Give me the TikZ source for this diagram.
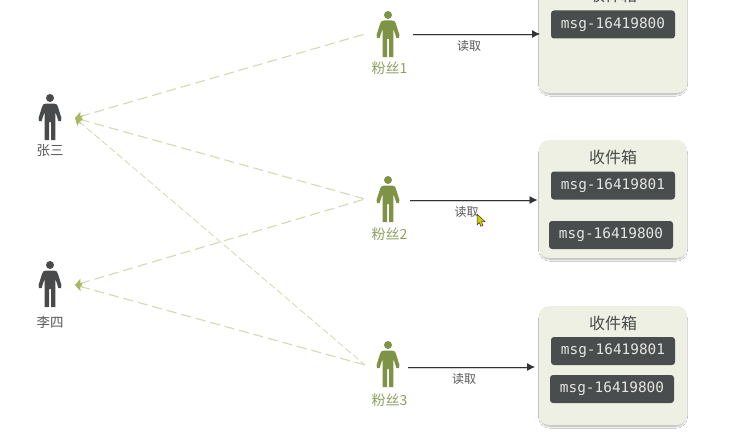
\documentclass[tikz,border=0pt]{standalone}
\usepackage{fontspec}
\setmainfont{Noto Sans CJK SC}
\newfontfamily\msgfont{DejaVu Sans Mono}
\usetikzlibrary{arrows.meta,shadows.blur}
\definecolor{boxfill}{HTML}{EDF0E2}
\definecolor{msgfill}{HTML}{4A4D4D}
\definecolor{msgtext}{HTML}{E4E6E2}
\definecolor{fangreen}{HTML}{7F9347}
\definecolor{fanlabel}{HTML}{8FA060}
\definecolor{darkperson}{HTML}{484A4B}
\definecolor{dashcol}{HTML}{D5D8B2}
\definecolor{tipcol}{HTML}{A6B95E}
\definecolor{txtcol}{HTML}{5A5A5A}
\tikzset{
  inboxbox/.style={draw=none,fill=boxfill,rounded corners=10pt,minimum width=148pt,inner sep=0pt,
    blur shadow={shadow xshift=0pt,shadow yshift=-2.5pt,shadow scale=.98,shadow blur steps=12,shadow blur radius=2pt,shadow opacity=35}},
  msgbox/.style={fill=msgfill,rounded corners=3pt,minimum width=124pt,minimum height=28pt,inner sep=0pt,
    text=msgtext,font=\msgfont\fontsize{14.4}{14.4}\selectfont},
  boxtitle/.style={text=darkperson,font=\fontsize{16}{16}\selectfont,inner sep=0pt},
  readlabel/.style={text=txtcol,font=\fontsize{12}{12}\selectfont,inner sep=0pt},
  fanname/.style={text=fanlabel,font=\fontsize{14}{14}\selectfont,inner sep=0pt},
  ownername/.style={text=txtcol,font=\fontsize{13.5}{13.5}\selectfont,inner sep=0pt},
  pushline/.style={draw=dashcol,line width=1.1pt,dash pattern=on 10pt off 5pt,
    {Stealth[length=7pt,width=9pt,color=tipcol,inset=1.5pt]}-},
  pushthin/.style={pushline,line width=.8pt,dash pattern=on 7pt off 3pt},
  readline/.style={draw=black!80,line width=.8pt,-{Latex[length=8pt,width=8pt]}},
  readshade/.style={draw=black!18,line width=1.2pt},
  pics/personicon/.style={code={
    \fill[#1] (0,0) circle (4);
    \fill[#1] (-4,5.5) -- (4,5.5) .. controls (6.5,5.5) and (7.5,7) .. (8,9)
      -- (11.4,20) -- (11,23) -- (8.4,23) -- (5.8,15) -- (5.3,15) -- (5.3,42) -- (1,42) -- (1,24) -- (-1,24)
      -- (-1,42) -- (-5.3,42) -- (-5.3,15) -- (-5.8,15) -- (-8.4,23) -- (-11,23) -- (-11.4,20) -- (-8,9)
      .. controls (-7.5,7) and (-6.5,5.5) .. (-4,5.5) -- cycle;
  }}
}
\begin{document}
\begin{tikzpicture}[x=1pt,y=-1pt]
\useasboundingbox (0,0) rectangle (751,436);
\clip (0,0) rectangle (751,436);
\fill[white] (0,0) rectangle (751,436);

% people
\pic at (50,98) {personicon=darkperson};
\pic at (50,265) {personicon=darkperson};
\pic at (388,15) {personicon=fangreen};
\pic at (388,180) {personicon=fangreen};
\pic at (388,345) {personicon=fangreen};
\node[ownername] (zhangname) at (50,151) {张三};
\node[ownername] (liname) at (50,322) {李四};
\node[fanname] (fanA) at (389.5,68) {粉丝1};
\node[fanname] (fanB) at (389.5,234) {粉丝2};
\node[fanname] (fanC) at (389.5,400) {粉丝3};

% inboxes
\node[inboxbox,minimum height=120pt] (inboxA) at (613,33) {};
\node[inboxbox,minimum height=118pt] (inboxB) at (613,199) {};
\node[inboxbox,minimum height=119pt] (inboxC) at (613,365.5) {};
\node[boxtitle] (titleA) at (613,-5) {收件箱};
\node[boxtitle] (titleB) at (613,157) {收件箱};
\node[boxtitle] (titleC) at (613,323) {收件箱};
\node[msgbox] (msgA) at (613,24.5) {msg-16419800};
\node[msgbox] (msgBa) at (613,185.5) {msg-16419801};
\node[msgbox] (msgBb) at (611,235) {msg-16419800};
\node[msgbox] (msgCa) at (613,351) {msg-16419801};
\node[msgbox] (msgCb) at (612,389) {msg-16419800};

% connector ends
\coordinate (zhang) at (75,118);
\coordinate (li) at (75,285);
\coordinate (pushA) at (365,34);
\coordinate (pushB) at (365,199);
\coordinate (pushC) at (365,365);
\coordinate (readAs) at (413,34);
\coordinate (readAe) at (540,34);
\coordinate (readBs) at (410,200);
\coordinate (readBe) at (537.5,200);
\coordinate (readCs) at (408,367);
\coordinate (readCe) at (535,367);

% dashed fan-out
\draw[pushline] (zhang) -- (pushA);
\draw[pushline] (zhang) -- (pushB);
\draw[pushthin] (zhang) -- (pushC);
\draw[pushline] (li) -- (pushB);
\draw[pushline] (li) -- (pushC);

% reads
\draw[readshade] ([yshift=-1.2pt]readAs) -- ([xshift=-6pt,yshift=-1.2pt]readAe);
\draw[readshade] ([yshift=-1.2pt]readBs) -- ([xshift=-6pt,yshift=-1.2pt]readBe);
\draw[readshade] ([yshift=-1.2pt]readCs) -- ([xshift=-6pt,yshift=-1.2pt]readCe);
\draw[readline] (readAs) -- (readAe);
\draw[readline] (readBs) -- (readBe);
\draw[readline] (readCs) -- (readCe);
\node[readlabel] (readA) at (469,45.5) {读取};
\node[readlabel] (readB) at (466.5,212) {读取};
\node[readlabel] (readC) at (464,378.5) {读取};

% mouse cursor
\fill[fill=yellow!60!olive,draw=black!75,line width=.5pt] (477,214) -- (485,221.5) -- (481.5,221.8) -- (483,225.5) -- (480.8,226.3) -- (479.3,222.6) -- (477,225) -- cycle;
\end{tikzpicture}
\end{document}
